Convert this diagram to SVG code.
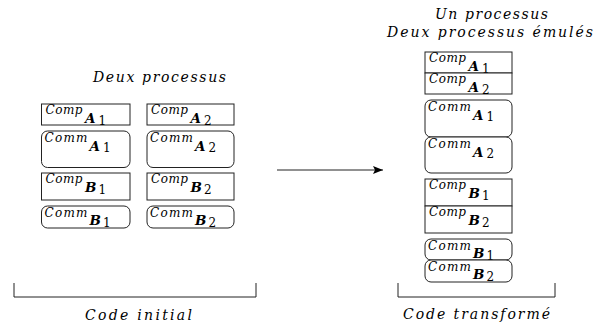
<svg xmlns="http://www.w3.org/2000/svg" width="597" height="329" viewBox="0 0 597 329">
<defs>
<style>
.bx{fill:#fff;stroke:#222;stroke-width:1}
.ln{fill:none;stroke:#222;stroke-width:1}
.t{font-family:"DejaVu Serif","Liberation Serif",serif;font-style:italic;fill:#000}
.ti{font-size:14px}
.c{font-size:12px}
.s{font-size:13.5px;font-weight:bold}
.d{font-size:12px;font-style:normal}
</style>
<marker id="ah" markerWidth="10" markerHeight="8" refX="10" refY="4" orient="auto" markerUnits="userSpaceOnUse">
<path d="M0,0 L10,4 L0,8 L2,4 Z" fill="#000"/>
</marker>
</defs>
<rect width="597" height="329" fill="#fff"/>

<g id="titles">
<text class="t ti" x="93" y="82" textLength="133" lengthAdjust="spacing">Deux processus</text>
<text class="t ti" x="435" y="19" textLength="113" lengthAdjust="spacing">Un processus</text>
<text class="t ti" x="387" y="37" textLength="206" lengthAdjust="spacing">Deux processus émulés</text>
<text class="t ti" x="85" y="320" textLength="107" lengthAdjust="spacing">Code initial</text>
<text class="t ti" x="403" y="319" textLength="147" lengthAdjust="spacing">Code transformé</text>
</g>

<g id="left-compA1"><rect class="bx" x="41.5" y="104" width="88.5" height="21"/>
<text class="t c" x="45.5" y="114" textLength="37" lengthAdjust="spacing">Comp</text><text class="t s" x="85" y="122.7">A</text><text class="t d" x="98.5" y="124.5">1</text></g>
<g id="left-compA2"><rect class="bx" x="147" y="104" width="87" height="21"/>
<text class="t c" x="151" y="114" textLength="37" lengthAdjust="spacing">Comp</text><text class="t s" x="190.5" y="122.7">A</text><text class="t d" x="204" y="124.5">2</text></g>

<g id="left-commA1"><rect class="bx" x="41.5" y="131" width="88.5" height="36.5" rx="6"/>
<text class="t c" x="44.5" y="142" textLength="43" lengthAdjust="spacing">Comm</text><text class="t s" x="89.5" y="150.5">A</text><text class="t d" x="103" y="152">1</text></g>
<g id="left-commA2"><rect class="bx" x="147" y="131" width="87" height="36.5" rx="6"/>
<text class="t c" x="150" y="142" textLength="43" lengthAdjust="spacing">Comm</text><text class="t s" x="195" y="150.5">A</text><text class="t d" x="208.5" y="152">2</text></g>

<g id="left-compB1"><rect class="bx" x="41.5" y="173" width="88.5" height="27"/>
<text class="t c" x="45.5" y="183" textLength="37" lengthAdjust="spacing">Comp</text><text class="t s" x="85" y="191.5">B</text><text class="t d" x="98.5" y="193.5">1</text></g>
<g id="left-compB2"><rect class="bx" x="147" y="173" width="87" height="27"/>
<text class="t c" x="151" y="183" textLength="37" lengthAdjust="spacing">Comp</text><text class="t s" x="190.5" y="191.5">B</text><text class="t d" x="204" y="193.5">2</text></g>

<g id="left-commB1"><rect class="bx" x="41.5" y="206" width="88.5" height="22" rx="6"/>
<text class="t c" x="44.5" y="216.5" textLength="43" lengthAdjust="spacing">Comm</text><text class="t s" x="89.5" y="225">B</text><text class="t d" x="103" y="227">1</text></g>
<g id="left-commB2"><rect class="bx" x="147" y="206" width="87" height="22" rx="6"/>
<text class="t c" x="150" y="216.5" textLength="43" lengthAdjust="spacing">Comm</text><text class="t s" x="195" y="225">B</text><text class="t d" x="208.5" y="227">2</text></g>

<g id="right-compA1"><rect class="bx" x="425" y="52" width="87" height="21"/>
<text class="t c" x="429" y="62" textLength="37" lengthAdjust="spacing">Comp</text><text class="t s" x="468.5" y="70.7">A</text><text class="t d" x="482" y="72.5">1</text></g>
<g id="right-compA2"><rect class="bx" x="425" y="73" width="87" height="21"/>
<text class="t c" x="429" y="83" textLength="37" lengthAdjust="spacing">Comp</text><text class="t s" x="468.5" y="91.7">A</text><text class="t d" x="482" y="93.5">2</text></g>

<g id="right-commA1"><rect class="bx" x="425" y="100" width="87" height="37" rx="6"/>
<text class="t c" x="428" y="111" textLength="43" lengthAdjust="spacing">Comm</text><text class="t s" x="473" y="119.5">A</text><text class="t d" x="486.5" y="121">1</text></g>
<g id="right-commA2"><rect class="bx" x="425" y="137" width="87" height="36" rx="6"/>
<text class="t c" x="428" y="148" textLength="43" lengthAdjust="spacing">Comm</text><text class="t s" x="473" y="156.5">A</text><text class="t d" x="486.5" y="158">2</text></g>

<g id="right-compB1"><rect class="bx" x="425" y="179" width="87" height="27"/>
<text class="t c" x="429" y="189" textLength="37" lengthAdjust="spacing">Comp</text><text class="t s" x="468.5" y="197.5">B</text><text class="t d" x="482" y="199.5">1</text></g>
<g id="right-compB2"><rect class="bx" x="425" y="206" width="87" height="27"/>
<text class="t c" x="429" y="216" textLength="37" lengthAdjust="spacing">Comp</text><text class="t s" x="468.5" y="224.5">B</text><text class="t d" x="482" y="226.5">2</text></g>

<g id="right-commB1"><rect class="bx" x="425" y="239" width="87" height="21" rx="6"/>
<text class="t c" x="428" y="249.5" textLength="43" lengthAdjust="spacing">Comm</text><text class="t s" x="473" y="258">B</text><text class="t d" x="486.5" y="260">1</text></g>
<g id="right-commB2"><rect class="bx" x="425" y="260" width="87" height="22" rx="6"/>
<text class="t c" x="428" y="270.5" textLength="43" lengthAdjust="spacing">Comm</text><text class="t s" x="473" y="279">B</text><text class="t d" x="486.5" y="281">2</text></g>

<g id="connectors">
<line class="ln" x1="277" y1="170" x2="383" y2="170" marker-end="url(#ah)"/>
<path class="ln" d="M14,283 V297 H256 V283"/>
<path class="ln" d="M398,283 V297 H555 V283"/>
</g>
</svg>
